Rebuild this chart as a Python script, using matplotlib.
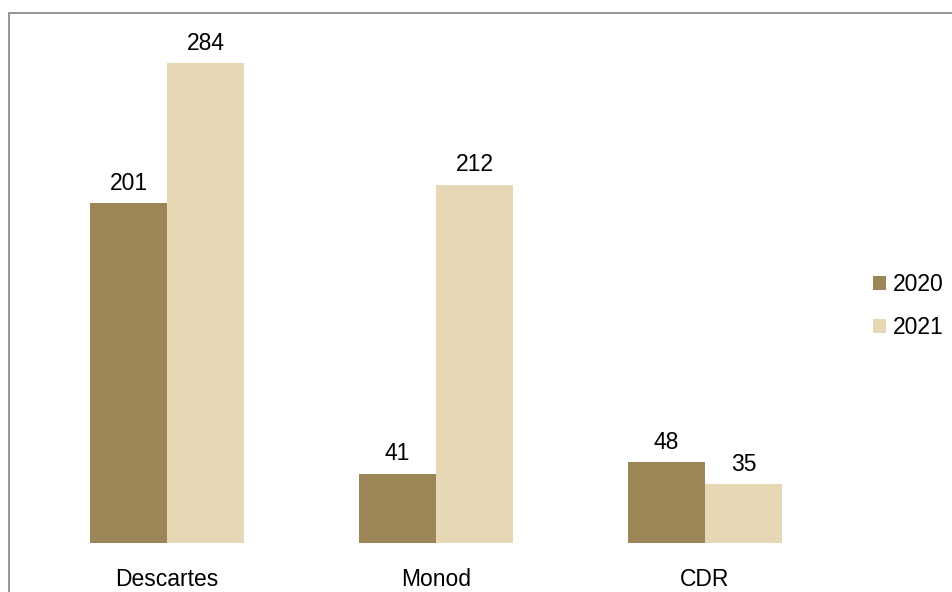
import matplotlib.pyplot as plt
import numpy as np
from matplotlib.patches import Rectangle

plt.rcParams['font.family'] = ['Liberation Sans', 'DejaVu Sans']

# datos
categorias = ["Descartes", "Monod", "CDR"]
valores_2020 = [201, 41, 48]
valores_2021 = [284, 212, 35]
series = ["2020", "2021"]
colores = ["#9c8658", "#e6d8b4"]

W, H = 952, 592
fig = plt.figure(figsize=(W / 100, H / 100), dpi=100, facecolor="white")

# marco gris del área del gráfico
fig.patches.append(Rectangle((9 / W, -0.05), 1.1, 1 - 13 / H + 0.05,
                             transform=fig.transFigure, fill=False,
                             edgecolor="#8c8c8c", linewidth=1.3))

ax = fig.add_axes([32.5 / W, 1 - 543 / H, (839.5 - 32.5) / W, (543 - 36) / H])
x = np.arange(len(categorias))
ancho = 0.286

b1 = ax.bar(x - ancho / 2, valores_2020, ancho, color=colores[0], label=series[0])
b2 = ax.bar(x + ancho / 2, valores_2021, ancho, color=colores[1], label=series[1])
for barras in (b1, b2):
    ax.bar_label(barras, padding=6, fontsize=16.5)

ax.set_xlim(-0.5, len(categorias) - 0.5)
ax.set_ylim(0, 300)
ax.set_xticks(x)
ax.set_xticklabels(categorias, fontsize=16.5)
ax.tick_params(axis="x", length=0, pad=18)
ax.set_yticks([])
for s in ax.spines.values():
    s.set_visible(False)

fig.legend(handles=[b1, b2], labels=series, loc="center left",
           bbox_to_anchor=(862 / W, 1 - 306 / H), frameon=False, fontsize=16.5,
           handlelength=0.55, handleheight=0.55, handletextpad=0.3,
           labelspacing=0.85, borderpad=0)

fig.savefig("out.png", dpi=100, facecolor="white")
